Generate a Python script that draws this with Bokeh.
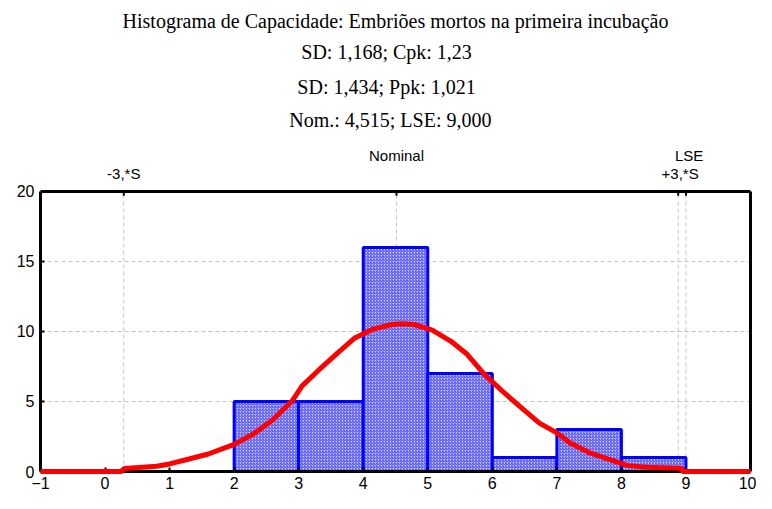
from bokeh.plotting import figure
from bokeh.models import Range1d, FixedTicker, Label
from bokeh.embed import file_html
from bokeh.resources import INLINE

# ---- data ----
bin_left = [2, 3, 4, 5, 6, 7, 8]
bin_right = [3, 4, 5, 6, 7, 8, 9]
counts = [5, 5, 16, 7, 1, 3, 1]

curve_x = [-1.0, 0.25, 0.3, 0.8, 1.0, 1.3, 1.6, 2.0, 2.3, 2.6, 2.9, 3.05, 3.3, 3.6,
           3.87, 4.13, 4.44, 4.6, 4.79, 5.07, 5.36, 5.61, 5.87, 6.17, 6.43, 6.73, 7.0,
           7.2, 7.5, 7.8, 8.1, 8.4, 8.93, 8.95, 10.0]
curve_y = [0, 0, 0.22, 0.37, 0.54, 0.89, 1.25, 1.94, 2.68, 3.7, 5.05, 6.1, 7.2, 8.45,
           9.54, 10.13, 10.5, 10.55, 10.5, 10.1, 9.3, 8.37, 6.97, 5.68, 4.63, 3.46, 2.76,
           2.06, 1.35, 0.89, 0.42, 0.3, 0.23, 0, 0]

x_min, x_max = -1, 10
y_min, y_max = 0, 20
x_ticks = list(range(-1, 11))
y_ticks = [0, 5, 10, 15, 20]
grid_y = [5, 10, 15]

ref_names = ["-3,*S", "Nominal", "+3,*S", "LSE"]
ref_values = [0.29, 4.515, 8.88, 9.0]

title_lines = [
    "Histograma de Capacidade: Embriões mortos na primeira incubação",
    "SD: 1,168;  Cpk: 1,23",
    "SD: 1,434;  Ppk: 1,021",
    "Nom.: 4,515; LSE: 9,000",
]

SANS = "Liberation Sans"
SERIF = "Liberation Serif"
W, H = 756, 493

# the frame covers the title area too; axes are bounded to the data area
p = figure(width=W, height=H, x_range=Range1d(-1, 10.062), y_range=Range1d(0, 33.64),
           output_backend="svg", toolbar_location=None,
           min_border_left=40, min_border_right=2, min_border_top=0, min_border_bottom=22)
p.background_fill_color = "white"
p.border_fill_color = "white"
p.outline_line_color = None
p.xgrid.visible = False
p.ygrid.visible = False

for ax in (p.xaxis, p.yaxis):
    ax.axis_line_width = 3
    ax.axis_line_color = "black"
    ax.major_tick_in = 4
    ax.major_tick_out = 0
    ax.major_tick_line_width = 2
    ax.minor_tick_line_color = None
    ax.major_label_text_font = SANS
    ax.major_label_text_font_size = "16px"
    ax.major_label_text_color = "black"
p.xaxis.ticker = FixedTicker(ticks=x_ticks)
p.yaxis.ticker = FixedTicker(ticks=y_ticks)
p.xaxis.bounds = (x_min, x_max)
p.yaxis.bounds = (y_min, y_max)
p.xaxis.major_label_standoff = 5
p.yaxis.major_label_standoff = 6

# dashed grid lines and reference lines
p.segment(x0=[x_min] * len(grid_y), y0=grid_y, x1=[x_max] * len(grid_y), y1=grid_y,
          line_color="#c4c4c4", line_dash="4 3", line_width=1)
p.segment(x0=ref_values, y0=[y_min] * len(ref_values), x1=ref_values,
          y1=[y_max] * len(ref_values),
          line_color="#c4c4c4", line_dash="4 3", line_width=1)

# bars
p.quad(left=bin_left, right=bin_right, top=counts, bottom=0,
       fill_color="#d0d0fa", hatch_pattern="right_diagonal_line", hatch_color="#2a2aff",
       hatch_scale=3, hatch_weight=1, hatch_alpha=0.9,
       line_color="#0000ff", line_width=3)

# top and right borders of the plot box, with tick marks for the reference lines
p.segment(x0=[x_min, x_max], y0=[y_max, y_min], x1=[x_max, x_max], y1=[y_max, y_max],
          line_color="black", line_width=3)
p.segment(x0=ref_values, y0=[y_max] * len(ref_values), x1=ref_values,
          y1=[y_max - 0.3] * len(ref_values), line_color="black", line_width=2)

# fitted curve, drawn over the axes
p.line(curve_x, curve_y, line_color="#ff0000", line_width=5, level="overlay")

# reference labels above the box
ref_label_y = {"-3,*S": 21.29, "Nominal": 22.57, "+3,*S": 21.29, "LSE": 22.57}
ref_label_dx = {"-3,*S": 0.0, "Nominal": 0.0, "+3,*S": 0.03, "LSE": 0.05}
for name, v in zip(ref_names, ref_values):
    p.add_layout(Label(x=v + ref_label_dx[name], y=ref_label_y[name], text=name,
                       text_align="center", text_baseline="middle",
                       text_font=SANS, text_font_size="15px", text_color="black"))

# title lines
title_y = [32.2, 29.93, 27.43, 25.07]
title_x = [4.5, 4.4, 4.4, 4.42]
for t, tx, ty in zip(title_lines, title_x, title_y):
    p.add_layout(Label(x=tx, y=ty, text=t, text_align="center", text_baseline="middle",
                       text_font=SERIF, text_font_size="20px", text_color="black"))

open("out.html", "w").write(file_html(p, INLINE))
